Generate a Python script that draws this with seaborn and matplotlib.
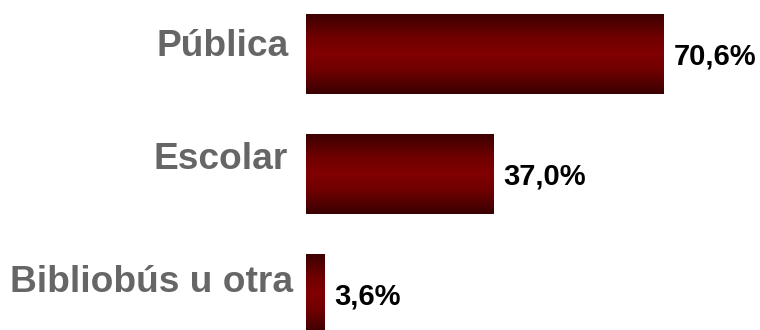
import numpy as np
import pandas as pd
import matplotlib
matplotlib.use("Agg")
import matplotlib.pyplot as plt
from matplotlib.colors import LinearSegmentedColormap
import seaborn as sns

categories = ["Pública", "Escolar", "Bibliobús u otra"]
values = [70.6, 37.0, 3.6]
value_labels = ["70,6%", "37,0%", "3,6%"]

df = pd.DataFrame({"cat": categories, "val": values})

sns.set_theme(style="white")
plt.rcParams["font.family"] = ["Liberation Sans", "DejaVu Sans"]

fig = plt.figure(figsize=(7.6, 3.3), dpi=100)
ax = fig.add_axes([306 / 760, 0, 454 / 760, 1])

sns.barplot(data=df, x="val", y="cat", orient="h", width=0.667,
            color="#800000", ax=ax, zorder=2)

ax.set_xlim(0, 454 / 5.07)
ax.set_ylim(2.304, -0.446)
ax.axis("off")

cmap = LinearSegmentedColormap.from_list(
    "grad", [(0.0, "#3a0000"), (0.3, "#700000"), (0.5, "#800000"),
             (0.7, "#700000"), (1.0, "#3a0000")])
grad = np.linspace(0, 1, 256).reshape(-1, 1)

for patch in ax.patches:
    x0, y0 = patch.get_x(), patch.get_y()
    w, h = patch.get_width(), patch.get_height()
    im = ax.imshow(grad, cmap=cmap, aspect="auto",
                   extent=(x0, x0 + w, y0 + h, y0), zorder=3,
                   interpolation="bilinear")
    im.set_clip_path(patch)

ax.set_xlim(0, 454 / 5.07)
ax.set_ylim(2.304, -0.446)

label_dy = [7, 14, 11]
label_dx = [-17, -18, -13]
for i, (cat, v, lab) in enumerate(zip(categories, values, value_labels)):
    ax.annotate(cat, xy=(0, i), xytext=(label_dx[i], label_dy[i]),
                textcoords="offset pixels", ha="right", va="center",
                fontsize=26.7, fontweight="bold", color="#666666",
                annotation_clip=False)
    ax.annotate(lab, xy=(v, i), xytext=(10, -3),
                textcoords="offset pixels", ha="left", va="center",
                fontsize=21, fontweight="bold", color="black",
                annotation_clip=False)

fig.savefig("out.png", dpi=100)
